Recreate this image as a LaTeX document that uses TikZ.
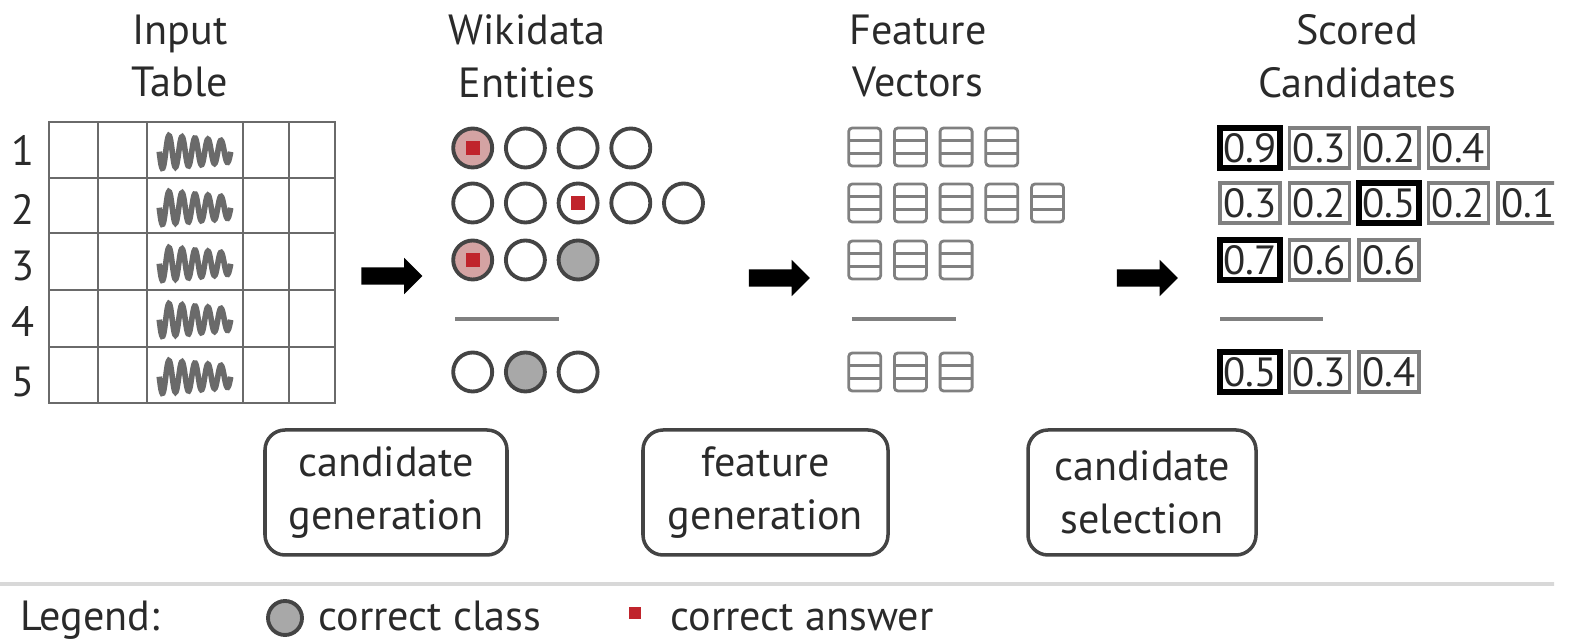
\documentclass[tikz,border=0pt]{standalone}
\usepackage{fontspec}
\setmainfont{PT Sans}
\usepackage{tikz}
\usetikzlibrary{shapes.arrows,positioning,calc}
\definecolor{ink}{HTML}{2A2A2A}
\definecolor{circ}{HTML}{444444}
\definecolor{clsgray}{HTML}{A8A8A8}
\definecolor{hitpink}{HTML}{D4A3A3}
\definecolor{ansred}{HTML}{C0242C}
\definecolor{vecgray}{HTML}{808080}
\definecolor{gridgray}{HTML}{6A6A6A}
\definecolor{rulegray}{HTML}{D8D8D8}

\begin{document}
\begin{tikzpicture}[font=\fontsize{12}{15}\selectfont,text=ink,
  entity/.style={circle,draw=circ,line width=1.1pt,minimum size=3.9mm,inner sep=0,fill=white},
  cls/.style={fill=clsgray},
  hit/.style={fill=hitpink},
  answer/.style={fill=ansred,minimum size=1.4mm,inner sep=0},
  vec/.style={draw=vecgray,line width=0.8pt,rounded corners=1pt,minimum width=3.2mm,minimum height=3.8mm,inner sep=0,
    path picture={\draw[vecgray,line width=0.8pt]
      ([yshift=0.63mm]path picture bounding box.west) -- ([yshift=0.63mm]path picture bounding box.east)
      ([yshift=-0.63mm]path picture bounding box.west) -- ([yshift=-0.63mm]path picture bounding box.east);}},
  score/.style={draw=vecgray,line width=0.9pt,minimum width=6mm,minimum height=4mm,inner sep=0,font=\fontsize{11.6}{13}\selectfont},
  best/.style={draw=black,line width=1.8pt},
  bigarrow/.style={single arrow,fill=black,minimum height=6.1mm,single arrow head extend=0.95mm,single arrow head indent=0,inner sep=0.8mm},
  stage/.style={draw=circ,line width=1pt,rounded corners=2mm,minimum height=12.5mm,align=center},
  sep/.style={vecgray,line width=1pt},
  grid/.style={gridgray,line width=0.7pt}]
\useasboundingbox (0,0) rectangle (15.7,-6.42);
\clip (0,0) rectangle (15.54,-6.42);

% Headings
\node (hin) at (1.80,-0.56) [align=center] {Input\\Table};
\node (hwd) at (5.27,-0.56) [align=center] {Wikidata\\Entities};
\node (hfv) at (9.18,-0.56) [align=center] {Feature\\Vectors};
\node (hsc) at (13.57,-0.56) [align=center] {Scored\\Candidates};

% Input table
\draw[grid] (0.49,-1.22) rectangle (3.35,-4.03);
\foreach \x in {0.98,1.47,2.43,2.89} \draw[grid] (\x,-1.22) -- (\x,-4.03);
\foreach \y in {-1.78,-2.33,-2.90,-3.47} \draw[grid] (0.49,\y) -- (3.35,\y);
\foreach \i/\y/\ly in {1/-1.52/-1.50,2/-2.08/-2.09,3/-2.64/-2.66,4/-3.20/-3.22,5/-3.77/-3.82} {
  \node (row\i) at (0.23,\ly) {\i};
  \node (wave\i) at (1.95,\y) [inner sep=0]
    {\tikz \draw[gridgray,line width=1.6pt,smooth,samples=120,domain=0:5.5,variable=\t]
      plot ({0.13*\t},{-0.17*sin(360*\t)*(1-0.07*\t)});};
}

% Wikidata entities
\foreach \k/\s in {1/hit,2/,3/,4/} \node[entity,\s] (ea\k) at (4.20+0.527*\k,-1.48) {};
\foreach \k/\s in {1/,2/,3/,4/,5/} \node[entity,\s] (eb\k) at (4.20+0.527*\k,-2.03) {};
\foreach \k/\s in {1/hit,2/,3/cls} \node[entity,\s] (ec\k) at (4.20+0.527*\k,-2.60) {};
\foreach \k/\s in {1/,2/cls,3/} \node[entity,\s] (ee\k) at (4.20+0.527*\k,-3.72) {};
\node[answer] (ansa) at (ea1) {};
\node[answer] (ansb) at (eb3) {};
\node[answer] (ansc) at (ec1) {};
\draw[sep] (4.55,-3.19) -- (5.59,-3.19);

% Feature vectors
\foreach \k in {1,...,4} \node[vec] (va\k) at (8.19+0.457*\k,-1.47) {};
\foreach \k in {1,...,5} \node[vec] (vb\k) at (8.19+0.457*\k,-2.03) {};
\foreach \k in {1,...,3} \node[vec] (vc\k) at (8.19+0.457*\k,-2.60) {};
\foreach \k in {1,...,3} \node[vec] (ve\k) at (8.19+0.457*\k,-3.72) {};
\draw[sep] (8.52,-3.19) -- (9.56,-3.19);

% Scored candidates
\foreach \k/\v/\s in {1/0.9/best,2/0.3/,3/0.2/,4/0.4/}
  \node[score,\s] (sa\k) at (11.805+0.695*\k,-1.48) {\v};
\foreach \k/\v/\s in {1/0.3/,2/0.2/,3/0.5/best,4/0.2/,5/0.1/}
  \node[score,\s] (sb\k) at (11.805+0.695*\k,-2.03) {\v};
\foreach \k/\v/\s in {1/0.7/best,2/0.6/,3/0.6/}
  \node[score,\s] (sc\k) at (11.805+0.695*\k,-2.60) {\v};
\foreach \k/\v/\s in {1/0.5/best,2/0.3/,3/0.4/}
  \node[score,\s] (se\k) at (11.805+0.695*\k,-3.72) {\v};
\draw[sep] (12.20,-3.19) -- (13.23,-3.19);

% Steps
\node[bigarrow] (arra) at (3.875,-2.76) {};
\node[bigarrow] (arrb) at (7.75,-2.78) {};
\node[bigarrow] (arrc) at (11.43,-2.78) {};
\node[stage,minimum width=24.2mm] (gen) at (3.86,-4.925) {candidate\\generation};
\node[stage,minimum width=24.5mm] (feat) at (7.655,-4.925) {feature\\generation};
\node[stage,minimum width=22.8mm] (sel) at (11.42,-4.925) {candidate\\selection};

% Legend
\draw[rulegray,line width=1.2pt] (0,-5.84) -- (15.55,-5.84);
\node (leg) at (0.08,-6.31) [anchor=base west] {Legend:};
\node[entity,cls,minimum size=3.4mm] (legc) at (2.85,-6.18) {};
\node (legct) at (3.06,-6.31) [anchor=base west] {correct class};
\node[answer,minimum size=1.2mm] (lega) at (6.35,-6.13) {};
\node (legat) at (6.58,-6.31) [anchor=base west] {correct answer};
\end{tikzpicture}
\end{document}
